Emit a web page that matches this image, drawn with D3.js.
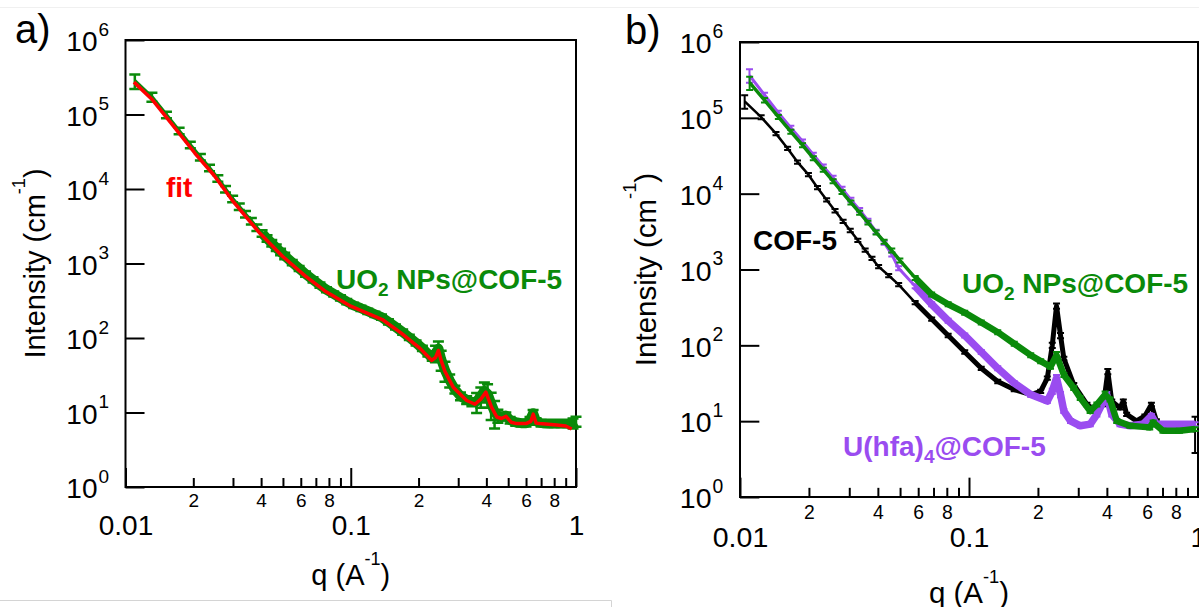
<!DOCTYPE html>
<html><head><meta charset="utf-8">
<script src="https://cdn.jsdelivr.net/npm/d3@7"></script>
<style>body{margin:0;background:#fff}svg{display:block}text{font-family:Arial,"Liberation Sans",sans-serif}</style>
</head><body><svg id="c" width="1199" height="607"></svg>
<script>
// ---------- tick data ----------
const minorTicks = [0.02,0.03,0.04,0.05,0.06,0.07,0.08,0.09,0.2,0.3,0.4,0.5,0.6,0.7,0.8,0.9];
const minorTickLabels = ["2","","4","","6","","8","","2","","4","","6","","8",""];
const majorTicks = [0.01,0.1,1];
const majorTickLabels = ["0.01","0.1","1"];
const yExponents = [0,1,2,3,4,5,6];

// ---------- panel a : UO2 NPs@COF-5 data + fit ----------
const qA = [0.0110,0.0131,0.0152,0.0173,0.0194,0.0215,0.0236,0.0257,0.0278,0.0299,0.0320,0.0341,0.0362,0.0383,0.0404,0.0425,0.0446,0.0467,0.0488,0.0509,
  0.055,0.059,0.063,0.068,0.073,0.078,0.084,0.090,0.096,0.103,0.111,0.119,0.128,0.137,0.147,0.158,0.170,0.182,0.195,0.208,0.220,0.230,
  0.238,0.245,0.252,0.262,0.275,0.290,0.307,0.327,0.345,0.362,0.378,0.392,0.405,0.420,0.435,0.450,0.468,0.488,0.51,0.54,
  0.57,0.60,0.625,0.645,0.665,0.70,0.75,0.80,0.86,0.92,0.97,1.0];
const IA = [283000,172000,98600,60400,39100,26800,19300,13900,10000,7400,5800,4600,3720,3030,2540,2170,1880,1630,1430,1270,
  1030,859,721,604,513,446,391,346,308,275,251,229,208,191,165,141,120,102,86,72.6,61.4,53.7,
  63,72,52,37,27,20.4,16.6,14.8,13.8,14.1,16.6,19.5,17.8,13.2,10.2,9.1,8.7,9.1,7.9,7.4,
  7.2,7.2,7.9,9.8,7.6,7.2,7.1,7.1,7.1,7.1,7.2,7.6];
const errA = [0.22,0.14,0.1,0.1,0.1,0.1,0.1,0.1,0.1,0.1,0.1,0.1,0.1,0.1,0.1,0.1,0.1,0.1,0.1,0.1,
  0.08,0.08,0.08,0.08,0.08,0.08,0.08,0.08,0.08,0.08,0.08,0.08,0.08,0.08,0.08,0.08,0.08,0.08,0.08,0.08,0.08,0.08,
  0.25,0.25,0.3,0.3,0.2,0.12,0.12,0.12,0.12,0.3,0.3,0.3,0.35,0.4,0.4,0.2,
  0.1,0.1,0.1,0.1,0.1,0.1,0.1,0.1,0.1,0.1,0.1,0.1,0.1,0.1,0.15,0.15];
const qFit = [0.0109,0.0132,0.0161,0.0203,0.0247,0.0301,0.0395,0.0499,0.0631,0.0767,0.1,0.138,0.167,0.203,0.229,0.238,0.245,0.252,0.262,0.285,
  0.327,0.356,0.378,0.398,0.422,0.445,0.467,0.489,0.515,0.545,0.60,0.63,0.646,0.665,0.692,0.82,0.90,0.957];
const IFit = [272000,156000,73800,30400,15300,6760,2540,1240,673,429,267,177,117,72.6,50,55,68,50,35.5,21.9,
  14.5,12.9,15.1,18.8,11.7,8.7,8.3,8.9,7.4,7.1,7.1,7.6,9.5,7.2,7.1,6.8,6.6,6.0];

// ---------- panel b ----------
const qCOF = [0.01048,0.01237,0.01436,0.01614,0.01783,0.0199,0.0218,0.0239,0.0260,0.0282,0.0303,0.0327,0.0352,0.0377,0.0403,0.0446,0.0493,
  0.0582,0.0687,0.0811,0.0958,0.1131,0.1335,0.1576,0.1861,0.2056,0.2198,0.2310,0.2411,0.2510,0.2595,0.2867,0.3274,0.3618,0.3867,0.4038,0.4201,
  0.4564,0.472,0.488,0.539,0.586,0.626,0.658,0.703,0.830,0.971];
const ICOF = [165000,102000,61900,39500,26100,17800,12000,8280,5960,4330,3270,2430,1800,1400,1090,832,632,
  366,222,135,81.8,49.8,33.4,26.1,22.4,24.8,36.9,100,330,135,67.1,30.3,16.6,13.6,16.6,45.1,18.4,
  15.0,18.4,12.3,10.1,11.7,16.6,10.1,8.28,8.28,7.6];
const errCOF = [0.2,0.06,0.05,0.05,0.05,0.05,0.05,0.05,0.05,0.05,0.05,0.05,0.05,0.05,0.05,0.05,0.05,
  0.05,0.05,0.05,0.05,0.05,0.05,0.05,0.05,0.05,0.05,0.08,0.08,0.08,0.05,0.05,0.05,0.05,0.05,0.08,0.05,
  0.05,0.05,0.05,0.05,0.05,0.05,0.05,0.05,0.08,0.5];

const qUhfa = [0.0110,0.0128,0.0147,0.01667,0.01875,0.0209,0.0231,0.0255,0.0279,0.0305,0.0333,0.0362,0.0393,0.0426,0.0460,0.0493,
  0.0582,0.0687,0.0811,0.0958,0.1131,0.1335,0.1576,0.1861,0.2198,0.231,0.2411,0.251,0.2595,0.2775,0.3062,0.3385,
  0.3618,0.3867,0.3996,0.4201,0.4564,0.5044,0.5761,0.626,0.658,0.830,0.971];
const IUhfa = [363000,200000,117000,74100,49000,32700,22900,16200,11600,8320,6100,4420,3160,2260,1580,1040,
  601,348,211,135,81.8,49.8,31.8,22.4,18.4,24.8,36.9,22.4,13.6,10.1,8.69,9.14,
  12.3,18.4,22.4,12.3,9.14,8.69,9.14,11.7,9.14,9.14,9.14];
const errUhfa = [0.2,0.07,0.06,0.06,0.06,0.06,0.06,0.06,0.06,0.06,0.06,0.06,0.06,0.06,0.06,0.06,
  0.06,0.06,0.06,0.06,0.06,0.06,0.06,0.06,0.06,0.08,0.1,0.08,0.06,0.06,0.06,0.06,
  0.06,0.06,0.08,0.06,0.06,0.06,0.06,0.06,0.06,0.06,0.06];

const qUO2 = [0.01102,0.01279,0.01471,0.01667,0.01875,0.0209,0.0231,0.0255,0.0279,0.0305,0.0333,0.0362,0.0393,0.0426,0.0460,0.0499,
  0.0582,0.0687,0.0811,0.0958,0.1131,0.1335,0.1576,0.186,0.2056,0.227,0.241,0.2596,0.2867,0.306,0.338,0.3618,
  0.393,0.413,0.4416,0.5044,0.6155,0.637,0.703,0.830,0.971];
const IUO2 = [291000,171000,103000,65800,43700,29400,20700,14600,10500,7640,5610,4160,3080,2330,1780,1320,
  776,469,348,270,201,149,105,74.1,61.9,52.2,74.1,40.7,27.4,20.3,13.6,16.6,
  22.4,19.3,10.1,8.69,8.28,9.62,7.48,7.48,7.87];
const errUO2 = [0.2,0.07,0.06,0.06,0.06,0.06,0.06,0.06,0.06,0.06,0.06,0.06,0.06,0.06,0.06,0.06,
  0.06,0.06,0.06,0.06,0.06,0.06,0.06,0.06,0.06,0.06,0.1,0.06,0.06,0.06,0.06,0.06,
  0.1,0.06,0.06,0.06,0.06,0.06,0.06,0.06,0.06];

// ---------- colours ----------
const GREEN = "#0a8a0a", RED = "#ff0000", PURPLE = "#9a4cf0", BLACK = "#000000";

const svg = d3.select("#c");
svg.append("rect").attr("width",1199).attr("height",607).attr("fill","#fff");
svg.append("line").attr("x1",0).attr("x2",1199).attr("y1",7.5).attr("y2",7.5).attr("stroke","#f0f0f0");
svg.append("path").attr("d","M0,600.5H611.5V607").attr("fill","none").attr("stroke","#d4d4d4");

const FONT = "Arial, 'Liberation Sans', sans-serif";

function makePanel(c){
  const k = (c.right - c.left) / 450;
  const x = d3.scaleLog().domain([0.01,1]).range([c.left,c.right]);
  const y = d3.scaleLog().domain([1,1e6]).range([c.bottom,c.top]);
  const g = svg.append("g");

  // x minor ticks + labels
  const gm = g.append("g").attr("transform",`translate(0,${c.bottom})`)
    .call(d3.axisBottom(x).tickValues(minorTicks).tickSize(-9*k).tickFormat((d,i)=>minorTickLabels[i]));
  gm.select(".domain").remove();
  gm.selectAll("line").attr("stroke","#000").attr("stroke-width",2);
  gm.selectAll("text").attr("y",c.minorOff).attr("dy",null).attr("font-size",19*k).attr("fill","#000")
    .attr("font-family",FONT);
  // x major ticks + labels
  const gM = g.append("g").attr("transform",`translate(0,${c.bottom})`)
    .call(d3.axisBottom(x).tickValues(majorTicks).tickSize(-19*k).tickFormat((d,i)=>majorTickLabels[i]));
  gM.select(".domain").remove();
  gM.selectAll("line").attr("stroke","#000").attr("stroke-width",2);
  gM.selectAll("text").attr("y",c.majorOff).attr("dy",null).attr("font-size",28*k).attr("fill","#000")
    .attr("font-family",FONT);

  // y ticks
  const gy = g.append("g").attr("transform",`translate(${c.left},0)`)
    .call(d3.axisLeft(y).tickValues(yExponents.map(e=>Math.pow(10,e))).tickSize(-19*k).tickFormat(""));
  gy.select(".domain").remove();
  gy.selectAll("line").attr("stroke","#000").attr("stroke-width",2);
  // y labels 10^n
  const yl = g.append("g");
  yExponents.forEach(e=>{
    const yy = y(Math.pow(10,e));
    yl.append("text").attr("x",c.left-28*k).attr("y",yy+11*k).attr("text-anchor","end")
      .attr("font-size",28*k).text("10");
    yl.append("text").attr("x",c.left-27*k).attr("y",yy-4*k).attr("text-anchor","start")
      .attr("font-size",19*k).text(String(e));
  });

  // frame
  g.append("rect").attr("x",c.left).attr("y",c.top).attr("width",c.right-c.left).attr("height",c.bottom-c.top)
    .attr("fill","none").attr("stroke","#000").attr("stroke-width",2);

  // titles
  const cx = (c.left + c.right)/2;
  const xt = g.append("text").attr("x",cx).attr("y",c.bottom+c.titleOff).attr("text-anchor","middle").attr("font-size",29*k);
  xt.append("tspan").text("q (A");
  xt.append("tspan").attr("font-size",18*k).attr("dy",-20*k).text("-1");
  xt.append("tspan").attr("dy",20*k).text(")");
  const cy = (c.top + c.bottom)/2;
  const yt = g.append("text").attr("transform",`translate(${c.yTitleX},${cy}) rotate(-90)`)
    .attr("text-anchor","middle").attr("font-size",29*k);
  yt.append("tspan").text("Intensity (cm");
  yt.append("tspan").attr("font-size",18*k).attr("dy",-20*k).text("-1");
  yt.append("tspan").attr("dy",20*k).text(")");

  // panel letter
  g.append("text").attr("x",c.labelX).attr("y",c.labelY).attr("font-size",40).text(c.label);
  return {x,y,g,k};
}

function drawSeries(P, q, I, err, color, o){
  const pts = q.map((v,i)=>({q:v, I:I[i], e:err ? err[i] : 0}));
  const line = d3.line().x(d=>P.x(d.q)).y(d=>P.y(d.I));
  const s = P.g.append("g");
  s.append("path").attr("d",line(pts)).attr("fill","none").attr("stroke",color)
    .attr("stroke-width",o.lw).attr("stroke-linejoin","round");
  if (o.bw){
    s.append("path").attr("d",line(pts.filter(d=>d.q>=o.bandFrom))).attr("fill","none").attr("stroke",color)
      .attr("stroke-width",o.bw).attr("stroke-linejoin","round");
  }
  if (err){
    const eb = s.append("g").attr("stroke",color).attr("stroke-width",o.ew).attr("fill","none");
    pts.forEach(d=>{
      const xx = P.x(d.q), y1 = P.y(d.I*(1+d.e)), y2 = P.y(d.I*Math.max(0.05,1-d.e)), h = o.cap/2;
      eb.append("path").attr("d",`M${xx},${y1}V${y2}M${xx-h},${y1}H${xx+h}M${xx-h},${y2}H${xx+h}`);
    });
  }
}

function label(P, x, y, color, parts){
  const t = P.g.append("text").attr("x",x).attr("y",y).attr("fill",color).attr("font-weight","bold").attr("font-size",28);
  parts.forEach(p=>{
    if (p.sub) { t.append("tspan").attr("font-size",19).attr("dy",7).text(p.t); }
    else if (p.back) { t.append("tspan").attr("dy",-7).text(p.t); }
    else t.append("tspan").text(p.t);
  });
}

// ---------- panel a ----------
const A = makePanel({left:125.5,right:576,top:40,bottom:487,yTitleX:45,label:"a)",labelX:15,labelY:43,
  minorOff:20,majorOff:48,titleOff:98});
drawSeries(A, qA, IA, errA, GREEN, {lw:3.5, bw:10, bandFrom:0.04, ew:2.5, cap:11});
drawSeries(A, qFit, IFit, null, RED, {lw:3.5});
label(A, 166, 197, RED, [{t:"fit"}]);
label(A, 336, 289, GREEN, [{t:"UO"},{t:"2",sub:true},{t:" NPs@COF-5",back:true}]);

// ---------- panel b ----------
const B = makePanel({left:740,right:1198,top:42,bottom:497,yTitleX:656,label:"b)",labelX:625,labelY:44,
  minorOff:22,majorOff:50,titleOff:106});
drawSeries(B, qCOF, ICOF, errCOF, BLACK, {lw:2.5, bw:5, bandFrom:0.05, ew:2, cap:7});
drawSeries(B, qUhfa, IUhfa, errUhfa, PURPLE, {lw:3, bw:7.5, bandFrom:0.05, ew:2, cap:7});
drawSeries(B, qUO2, IUO2, errUO2, GREEN, {lw:3.5, bw:6.5, bandFrom:0.05, ew:2, cap:7});
label(B, 753, 250, BLACK, [{t:"COF-5"}]);
label(B, 962, 293, GREEN, [{t:"UO"},{t:"2",sub:true},{t:" NPs@COF-5",back:true}]);
label(B, 843, 456, PURPLE, [{t:"U(hfa)"},{t:"4",sub:true},{t:"@COF-5",back:true}]);
</script></body></html>
